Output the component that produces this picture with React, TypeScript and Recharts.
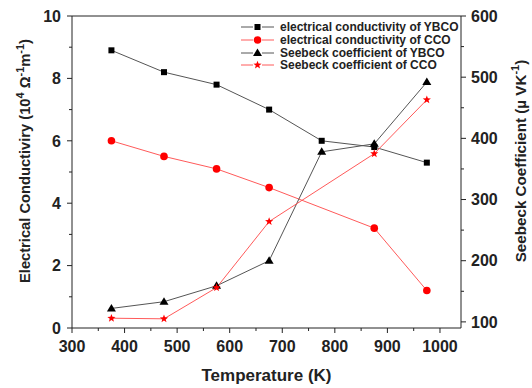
import React from 'react'
import {
  ComposedChart,
  Line,
  XAxis,
  YAxis,
  Legend,
  ReferenceLine,
  Label,
} from 'recharts'

const temperatures = [375, 475, 575, 675, 775, 875, 975]
const ybcoConductivity = [8.9, 8.2, 7.8, 7.0, 6.0, 5.8, 5.3]
const ccoConductivity = [6.0, 5.5, 5.1, 4.5, null, 3.2, 1.2]
const ybcoSeebeck = [122, 133, 159, 200, 378, 391, 492]
const ccoSeebeck = [106, 105, 156, 264, null, 375, 463]

const xTicks = [300, 350, 400, 450, 500, 550, 600, 650, 700, 750, 800, 850, 900, 950, 1000]
const leftTicks = [0, 1, 2, 3, 4, 5, 6, 7, 8, 9, 10]
const rightTicks = [100, 150, 200, 250, 300, 350, 400, 450, 500, 550, 600]

const seriesNames = [
  'electrical conductivity of YBCO',
  'electrical conductivity of CCO',
  'Seebeck coefficient of YBCO',
  'Seebeck coefficient of CCO',
]

const data = temperatures.map((t, i) => ({
  t,
  ybcoCond: ybcoConductivity[i],
  ccoCond: ccoConductivity[i],
  ybcoSee: ybcoSeebeck[i],
  ccoSee: ccoSeebeck[i],
}))

const FONT = '"Liberation Sans", Arial, sans-serif'
const AXIS = '#222'
const BLACK_LINE = '#555'
const RED_LINE = '#ff5a5a'
const RED = '#ff0000'

// marker shapes
function Square({ cx, cy }: any) {
  if (cx == null || cy == null) return null
  return <rect x={cx - 3} y={cy - 3} width={6} height={6} fill="#000" />
}

function Circle({ cx, cy }: any) {
  if (cx == null || cy == null) return null
  return <circle cx={cx} cy={cy} r={3.8} fill={RED} />
}

function Triangle({ cx, cy }: any) {
  if (cx == null || cy == null) return null
  return <polygon points={`${cx},${cy - 4.5} ${cx + 4.5},${cy + 3} ${cx - 4.5},${cy + 3}`} fill="#000" />
}

function starPoints(cx: number, cy: number, outer: number, inner: number) {
  const pts: string[] = []
  for (let i = 0; i < 10; i++) {
    const r = i % 2 === 0 ? outer : inner
    const a = -Math.PI / 2 + (i * Math.PI) / 5
    pts.push(`${cx + r * Math.cos(a)},${cy + r * Math.sin(a)}`)
  }
  return pts.join(' ')
}

function Star({ cx, cy }: any) {
  if (cx == null || cy == null) return null
  return <polygon points={starPoints(cx, cy, 4.3, 1.8)} fill={RED} />
}

const legendItems = [
  { name: seriesNames[0], line: BLACK_LINE, Marker: Square },
  { name: seriesNames[1], line: RED_LINE, Marker: Circle },
  { name: seriesNames[2], line: BLACK_LINE, Marker: Triangle },
  { name: seriesNames[3], line: RED_LINE, Marker: Star },
]

function ChartLegend() {
  return (
    <div style={{ fontFamily: FONT, fontWeight: 'bold', fontSize: 12, color: '#222' }}>
      {legendItems.map(({ name, line, Marker }) => (
        <div key={name} style={{ display: 'flex', alignItems: 'center', height: 12.7 }}>
          <svg width={40} height={12} style={{ display: 'block' }}>
            <line x1={1} y1={6} x2={13} y2={6} stroke={line} strokeWidth={1} />
            <line x1={22} y1={6} x2={34} y2={6} stroke={line} strokeWidth={1} />
            <Marker cx={17.5} cy={6} />
          </svg>
          <span style={{ whiteSpace: 'nowrap' }}>{name}</span>
        </div>
      ))}
    </div>
  )
}

// ticks: majors labelled, minors short and unlabelled
function XTick({ x, y, payload }: any) {
  const major = payload.value % 100 === 0
  return (
    <g>
      <line x1={x} y1={y} x2={x} y2={y + (major ? 5 : 3)} stroke={AXIS} />
      {major && (
        <text x={x} y={y + 24} textAnchor="middle" fontFamily={FONT} fontWeight="bold" fontSize={16} fill="#222">
          {payload.value}
        </text>
      )}
    </g>
  )
}

function LeftTick({ x, y, payload }: any) {
  const major = payload.value % 2 === 0
  return (
    <g>
      <line x1={x - (major ? 5 : 3)} y1={y} x2={x} y2={y} stroke={AXIS} />
      {major && (
        <text x={x - 11} y={y} dy="0.36em" textAnchor="end" fontFamily={FONT} fontWeight="bold" fontSize={16} fill="#222">
          {payload.value}
        </text>
      )}
    </g>
  )
}

function RightTick({ x, y, payload }: any) {
  const major = payload.value % 100 === 0
  return (
    <g>
      <line x1={x} y1={y} x2={x + (major ? 5 : 3)} y2={y} stroke={AXIS} />
      {major && (
        <text x={x + 10} y={y} dy="0.36em" textAnchor="start" fontFamily={FONT} fontWeight="bold" fontSize={16} fill="#222">
          {payload.value}
        </text>
      )}
    </g>
  )
}

function LeftTitle({ viewBox }: any) {
  const cx = viewBox.x + 25
  const cy = viewBox.y + viewBox.height / 2 - 11
  return (
    <text
      x={cx}
      y={cy}
      dy="0.36em"
      textAnchor="middle"
      transform={`rotate(-90 ${cx} ${cy})`}
      fontFamily={FONT}
      fontWeight="bold"
      fontSize={14.7}
      fill="#222"
    >
      Electrical Conductiviry (10
      <tspan dy={-6.5} fontSize={11}>4</tspan>
      <tspan dy={6.5}> Ω</tspan>
      <tspan dy={-6.5} fontSize={11}>-1</tspan>
      <tspan dy={6.5}>m</tspan>
      <tspan dy={-6.5} fontSize={11}>-1</tspan>
      <tspan dy={6.5}>)</tspan>
    </text>
  )
}

function RightTitle({ viewBox }: any) {
  const cx = viewBox.x + 60
  const cy = viewBox.y + viewBox.height / 2 - 11
  return (
    <text
      x={cx}
      y={cy}
      dy="0.36em"
      textAnchor="middle"
      transform={`rotate(-90 ${cx} ${cy})`}
      fontFamily={FONT}
      fontWeight="bold"
      fontSize={15.2}
      fill="#222"
    >
      Seebeck Coefficient (µ VK
      <tspan dy={-7} fontSize={11}>-1</tspan>
      <tspan dy={7}>)</tspan>
    </text>
  )
}

function BottomTitle({ viewBox }: any) {
  return (
    <text
      x={viewBox.x + viewBox.width / 2}
      y={viewBox.y + 53}
      textAnchor="middle"
      fontFamily={FONT}
      fontWeight="bold"
      fontSize={17}
      fill="#222"
    >
      Temperature (K)
    </text>
  )
}

export default function App() {
  return (
    <div style={{ position: 'absolute', left: 0, top: 0, background: '#fff' }}>
      <ComposedChart width={532} height={388} data={data} margin={{ top: 16, right: 0, bottom: 0, left: 0 }}>
        <XAxis
          dataKey="t"
          type="number"
          domain={[300, 1040]}
          ticks={xTicks}
          interval={0}
          height={60}
          tickSize={0}
          tickMargin={0}
          tickLine={false}
          tick={(p: any) => <XTick {...p} />}
          stroke={AXIS}
          allowDataOverflow
        >
          <Label content={<BottomTitle />} />
        </XAxis>
        <YAxis
          yAxisId="left"
          type="number"
          domain={[0, 10]}
          ticks={leftTicks}
          interval={0}
          width={72}
          tickSize={0}
          tickMargin={0}
          tickLine={false}
          tick={(p: any) => <LeftTick {...p} />}
          stroke={AXIS}
          allowDataOverflow
        >
          <Label content={<LeftTitle />} />
        </YAxis>
        <YAxis
          yAxisId="right"
          orientation="right"
          type="number"
          domain={[90, 600]}
          ticks={rightTicks}
          interval={0}
          width={71}
          tickSize={0}
          tickMargin={0}
          tickLine={false}
          tick={(p: any) => <RightTick {...p} />}
          stroke={AXIS}
          allowDataOverflow
        >
          <Label content={<RightTitle />} />
        </YAxis>
        <ReferenceLine yAxisId="left" y={10} stroke={AXIS} />
        <Legend
          layout="vertical"
          verticalAlign="middle"
          align="center"
          content={<ChartLegend />}
          wrapperStyle={{ left: 240, top: 21, width: 230 }}
        />
        <Line
          yAxisId="left"
          name={seriesNames[0]}
          dataKey="ybcoCond"
          type="linear"
          stroke={BLACK_LINE}
          strokeWidth={1}
          dot={<Square />}
          activeDot={false}
          connectNulls
          isAnimationActive={false}
        />
        <Line
          yAxisId="left"
          name={seriesNames[1]}
          dataKey="ccoCond"
          type="linear"
          stroke={RED_LINE}
          strokeWidth={1}
          dot={<Circle />}
          activeDot={false}
          connectNulls
          isAnimationActive={false}
        />
        <Line
          yAxisId="right"
          name={seriesNames[2]}
          dataKey="ybcoSee"
          type="linear"
          stroke={BLACK_LINE}
          strokeWidth={1}
          dot={<Triangle />}
          activeDot={false}
          connectNulls
          isAnimationActive={false}
        />
        <Line
          yAxisId="right"
          name={seriesNames[3]}
          dataKey="ccoSee"
          type="linear"
          stroke={RED_LINE}
          strokeWidth={1}
          dot={<Star />}
          activeDot={false}
          connectNulls
          isAnimationActive={false}
        />
      </ComposedChart>
    </div>
  )
}
